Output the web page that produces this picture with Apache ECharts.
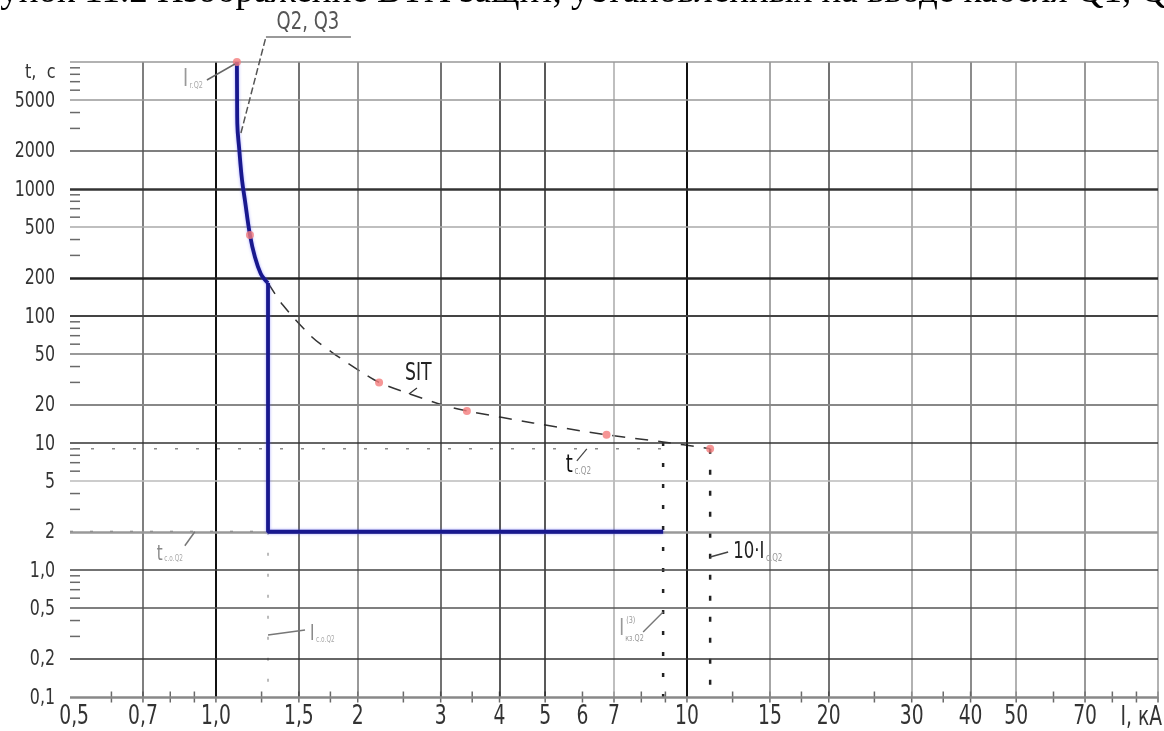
<!DOCTYPE html>
<html><head><meta charset="utf-8">
<script src="https://cdn.jsdelivr.net/npm/echarts@6/dist/echarts.min.js"></script>
<style>html,body{margin:0;padding:0;background:#fff}#c{width:1164px;height:731px}</style>
</head><body><div id="c"></div>
<script>
// ---------- data ----------
const X_MIN = 0.49, X_MAX = 100, Y_MIN = 0.1, Y_MAX = 10000;
const xGridValues = [0.7, 1, 1.5, 2, 3, 4, 5, 7, 10, 15, 20, 30, 40, 50, 70, 100];
const yGridValues = [0.1, 0.2, 0.5, 1, 2, 5, 10, 20, 50, 100, 200, 500, 1000, 2000, 5000, 10000];
const xTickValues = [0.5, 0.7, 1, 1.5, 2, 3, 4, 5, 6, 7, 10, 15, 20, 30, 40, 50, 70];
const xTickLabels = ['0,5', '0,7', '1,0', '1,5', '2', '3', '4', '5', '6', '7', '10', '15', '20', '30', '40', '50', '70'];
const yTickValues = [0.1, 0.2, 0.5, 1, 2, 5, 10, 20, 50, 100, 200, 500, 1000, 2000, 5000];
const yTickLabels = ['0,1', '0,2', '0,5', '1,0', '2', '5', '10', '20', '50', '100', '200', '500', '1000', '2000', '5000'];
const xMinorTicks = [0.6, 0.8, 0.9, 1.25, 1.75, 2.5, 3.5, 6, 8, 9, 12.5, 17.5, 25, 35, 60, 80, 90];
const yMinorTicks = [0.3, 0.4, 0.6, 0.7, 0.8, 0.9, 3, 4, 6, 7, 8, 9, 30, 40, 60, 70, 80, 90,
                     300, 400, 600, 700, 800, 900, 3000, 4000, 6000, 7000, 8000, 9000];
// breaker Q2,Q3 characteristic (I, kA ; t, s): thermal part and instantaneous part
const breakerThermal = [[1.108, 10000], [1.109, 5000], [1.11, 3300], [1.121, 2030], [1.136, 1180], [1.152, 820],
                        [1.181, 434], [1.21, 291], [1.245, 215], [1.275, 190], [1.29, 182]];
const breakerInstant = [[1.29, 182], [1.29, 2], [8.9, 2]];
// SIT relay characteristic
const sitCurve = [[1.29, 182], [1.387, 122], [1.599, 68.4], [1.772, 51.1], [2.051, 35.6], [2.22, 30],
                  [2.544, 24.8], [3.034, 19.9], [3.41, 17.9], [4.71, 14.4], [6.75, 11.6], [8.9, 10.2], [11.2, 9]];
const markedPoints = [[1.108, 10000], [1.181, 434], [2.22, 30], [3.41, 17.9], [6.75, 11.6], [11.2, 9]];
// reference lines
const tcQ2Line = [[X_MIN, 9], [8.9, 9]];
const tcoQ2Line = [[X_MIN, 2], [1.29, 2]];
const IcoQ2Line = [[1.29, 2], [1.29, 0.1]];
const Ik3Line = [[8.9, 10.2], [8.9, 0.1]];
const tenIcLine = [[11.2, 9], [11.2, 0.1]];
const titleText = 'Рисунок 11.2 Изображение ВТХ защит, установленных на вводе кабеля Q1, Q2';

// ---------- styles ----------
const NARROW = '"Liberation Sans Narrow","DejaVu Sans Condensed","Arial Narrow",sans-serif';
const xGridStyle = [['#555',1.5],['#111',2],['#444',1.5],['#777',1.5],['#444',1.5],['#222',1.5],['#222',1.5],['#aaa',1.5],
                    ['#111',2],['#888',1.5],['#444',1.5],['#999',1.5],['#666',1.5],['#999',1.5],['#777',1.5],['#999',1.5]];
const yGridStyle = [['#888',2.5],['#333',1.5],['#555',1.5],['#444',1.5],['#999',2.5],['#bbb',1.5],['#333',1.5],['#888',2],
                    ['#777',1.5],['#444',2],['#222',2.5],['#aaa',1.5],['#333',2.5],['#555',1.5],['#999',1.5],['#999',1.5]];
const BLUE = '#18188e';

const chart = echarts.init(document.getElementById('c'));
const option = {
  animation: false,
  backgroundColor: '#fff',
  grid: { left: 70, right: 6, top: 62, bottom: 34 },
  xAxis: { type: 'log', logBase: 10, min: X_MIN, max: X_MAX, axisLine: {show:false}, axisTick: {show:false}, axisLabel: {show:false}, splitLine: {show:false} },
  yAxis: { type: 'log', logBase: 10, min: Y_MIN, max: Y_MAX, axisLine: {show:false}, axisTick: {show:false}, axisLabel: {show:false}, splitLine: {show:false} },
  series: [
    { type: 'line', name: 'grid', data: [[1, 1]], showSymbol: false, lineStyle: {opacity: 0}, silent: true, z: 1,
      markLine: { silent: true, symbol: ['none','none'], label: {show:false},
        data: xGridValues.map((v,i)=>({xAxis: v, lineStyle: {type:'solid', color: xGridStyle[i][0], width: xGridStyle[i][1]}}))
          .concat(yGridValues.map((v,i)=>({yAxis: v, lineStyle: {type:'solid', color: yGridStyle[i][0], width: yGridStyle[i][1]}})))
      } },
    { type: 'scatter', name: 'xticks', data: xMinorTicks.concat(xGridValues).map(v=>[v, Y_MIN]), symbol: 'rect', symbolSize: [1.5, 11], itemStyle: {color:'#444'}, clip: false, silent: true, z: 2 },
    { type: 'scatter', name: 'yticks', data: yMinorTicks.map(v=>[X_MIN, v]), symbol: 'rect', symbolSize: [10, 1.5], symbolOffset: [5, 0], itemStyle: {color:'#444'}, clip: false, silent: true, z: 2 },
    { type: 'line', name: 'tcQ2', data: tcQ2Line, showSymbol: false, lineStyle: {color:'#8a8a8a', width: 1.5, type: [3, 18]}, z: 3 },
    { type: 'line', name: 'tcoQ2', data: tcoQ2Line, showSymbol: false, lineStyle: {color:'#777', width: 2, type: [3, 17]}, z: 3 },
    { type: 'line', name: 'IcoQ2', data: IcoQ2Line, showSymbol: false, lineStyle: {color:'#bbb', width: 2, type: [3, 18]}, z: 3 },
    { type: 'line', name: 'Ik3', data: Ik3Line, showSymbol: false, lineStyle: {color:'#222', width: 2.5, type: [4, 17]}, z: 3 },
    { type: 'line', name: 'tenIc', data: tenIcLine, showSymbol: false, lineStyle: {color:'#222', width: 2.5, type: [5, 16]}, z: 3 },
    { type: 'line', name: 'SIT', data: sitCurve, smooth: 0.3, showSymbol: false, clip: false, lineStyle: {color:'#333', width: 1.5, type: [13, 10]}, z: 4 },
    { type: 'line', name: 'Q2, Q3', data: breakerThermal, smooth: 0.4, showSymbol: false, clip: false,
      lineStyle: {color: BLUE, width: 3.8, shadowBlur: 3, shadowColor: 'rgba(90,90,255,0.55)'}, z: 5 },
    { type: 'line', name: 'Q2, Q3 inst', data: breakerInstant, showSymbol: false, clip: false,
      lineStyle: {color: BLUE, width: 3.8, shadowBlur: 3, shadowColor: 'rgba(90,90,255,0.55)'}, z: 5 },
    { type: 'scatter', name: 'points', data: markedPoints, symbolSize: 8, clip: false, itemStyle: {color:'#f47c7c'}, z: 6 }
  ]
};
chart.setOption(option);

// ---------- labels & annotations (positions from the chart's own scales) ----------
function P(x, y) { return chart.convertToPixel({xAxisIndex: 0, yAxisIndex: 0}, [x, y]); }
const G = [];
function seg(a, dx1, dy1, dx2, dy2, color, w, dash) {
  G.push({ type: 'line', silent: true, z: 20, shape: {x1: a[0]+dx1, y1: a[1]+dy1, x2: a[0]+dx2, y2: a[1]+dy2},
           style: {stroke: color, lineWidth: w, lineDash: dash || null} });
}
function T(x, y, text, o) {
  o = o || {};
  G.push({ type: 'text', silent: true, z: 20, x: x, y: y, scaleX: o.sx == null ? 0.8 : o.sx,
           style: { text: text, rich: o.rich, fontSize: o.size || 20, fontFamily: o.family || NARROW, fill: o.color || '#333',
                    align: o.align || 'left', verticalAlign: o.va || 'bottom' } });
}
function rich(mainSize, mainColor, subSize, subColor, subPad) {
  return { a: {fontSize: mainSize, fill: mainColor, fontFamily: NARROW},
           b: {fontSize: subSize, fill: subColor, fontFamily: NARROW, padding: [subPad, 0, 0, 2]} };
}
// tick labels
xTickValues.forEach((v, i) => { const p = P(v, Y_MIN); T(p[0], p[1] + 7, xTickLabels[i], {size: 26, color: '#333', align: 'center', va: 'top'}); });
yTickValues.forEach((v, i) => { const p = P(X_MIN, v); T(p[0] - 15, p[1] + 1, yTickLabels[i], {size: 22, color: '#333', align: 'right', va: 'middle'}); });
// title (cropped at the top edge)
T(-56, -8, titleText, {size: 37, family: '"Liberation Serif","Times New Roman",serif', color: '#000', va: 'middle', sx: 1});
// axis names
T(25, 63, 't,  с', {size: 20, color: '#333', va: 'top', sx: 0.9});
T(1162, 731, 'I, кА', {size: 26, color: '#333', align: 'right', va: 'bottom'});

// Q2, Q3
let a = P(1.13, 2760);
seg(a, 0, 0, 25, -96, '#555', 1.5, [7, 3]);
seg(a, 25, -96, 110, -96, '#777', 1.5);
T(a[0] + 67, a[1] - 98, 'Q2, Q3', {size: 25, color: '#555', align: 'center'});
// I r.Q2
a = P(1.108, 10000);
seg(a, -2, 2, -30, 18, '#666', 1.5);
T(a[0] - 54, a[1] + 30, '{a|I}{b|r.Q2}', {rich: rich(24, '#999', 9, '#aaa', 11)});
// SIT
a = P(2.544, 24.8);
seg(a, 2, 1, 10, -5, '#333', 1.2);
T(a[0] - 2, a[1] - 7, 'SIT', {size: 24, color: '#222'});
// t c.Q2
a = P(6.13, 9);
seg(a, 0, 0, -10, 12, '#444', 1.2);
T(a[0] - 21, a[1] + 29, '{a|t}{b|с.Q2}', {rich: rich(25, '#111', 10, '#999', 12)});
// 10·I c.Q2
a = P(11.2, 1.266);
seg(a, 0, 0, 18, -5, '#444', 1.5);
T(a[0] + 23, a[1] + 7, '{a|10·I}{b|с.Q2}', {rich: rich(23, '#222', 10, '#999', 11)});
// I k3
a = P(8.9, 0.467);
seg(a, 0, 0, -20, 20, '#777', 1.5);
T(a[0] - 44, a[1] + 29, 'I', {size: 23, color: '#999'});
T(a[0] - 37, a[1] + 13, '(3)', {size: 9, color: '#999'});
T(a[0] - 38, a[1] + 31, 'кз.Q2', {size: 9, color: '#999'});
// t c.o.Q2
a = P(0.902, 2);
seg(a, 0, 0, -10, 14, '#777', 1.5);
T(a[0] - 38, a[1] + 33, '{a|t}{b|с.о.Q2}', {rich: rich(21, '#888', 8, '#aaa', 10)});
// I c.o.Q2
a = P(1.29, 0.308);
seg(a, 0, 0, 37, -5, '#777', 1.5);
T(a[0] + 42, a[1] + 10, '{a|I}{b|с.о.Q2}', {rich: rich(21, '#888', 8, '#aaa', 10)});

chart.setOption({ graphic: G });
</script>
</body></html>
